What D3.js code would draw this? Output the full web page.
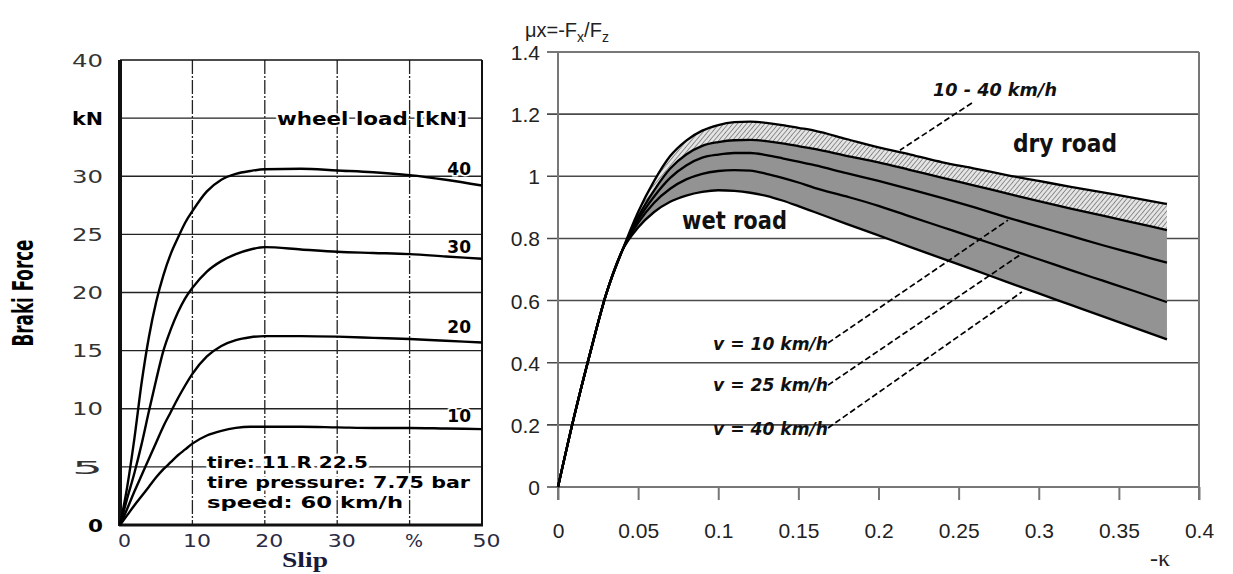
<!DOCTYPE html>
<html>
<head>
<meta charset="utf-8">
<script src="https://cdn.jsdelivr.net/npm/d3@7/dist/d3.min.js"></script>
<style>
  html, body { margin: 0; padding: 0; background: #fff; }
  svg { display: block; }
</style>
</head>
<body>
<svg id="chart" width="1233" height="574"></svg>
<script>
// ---- left chart: braking force vs slip, one curve per wheel load ----
const slip = [0, 1, 2, 3, 4, 5, 6, 7, 8, 9, 10, 12, 14, 16, 18, 20, 25, 30, 35, 40, 45, 50];
const load40 = [0, 3.3, 7.5, 12.3, 16.2, 19.2, 21.5, 23.3, 24.7, 26, 27, 28.7, 29.7, 30.2, 30.45, 30.6, 30.65, 30.5, 30.35, 30.1, 29.7, 29.2];
const load30 = [0, 2.3, 4.5, 7, 9.8, 12.5, 15, 16.8, 18.3, 19.5, 20.4, 21.8, 22.7, 23.3, 23.7, 23.9, 23.7, 23.5, 23.4, 23.3, 23.1, 22.9];
const load20 = [0, 1.4, 2.9, 4.3, 5.7, 7.1, 8.5, 9.7, 10.9, 12, 13, 14.5, 15.4, 15.9, 16.15, 16.25, 16.25, 16.2, 16.1, 16, 15.85, 15.7];
const load10 = [0, 0.85, 1.7, 2.5, 3.3, 4.1, 4.8, 5.4, 6, 6.5, 7, 7.7, 8.1, 8.35, 8.45, 8.45, 8.45, 8.4, 8.35, 8.35, 8.3, 8.25];
const loadNames = ["40", "30", "20", "10"];
const forceTicks = [0, 5, 10, 15, 20, 25, 30, 35, 40];
const slipTicks = [0, 10, 20, 30, 40, 50];
const tireInfo = ["tire: 11 R 22.5", "tire pressure: 7.75 bar", "speed: 60 km/h"];

// ---- right chart: friction coefficient vs slip (kappa) ----
const kappa = [0, 0.01, 0.02, 0.03, 0.04, 0.05, 0.06, 0.07, 0.08, 0.09, 0.10, 0.11, 0.12, 0.13, 0.14, 0.15, 0.16, 0.18, 0.20, 0.22, 0.24, 0.26, 0.28, 0.30, 0.32, 0.34, 0.36, 0.38];
const muDryMax = [0, 0.225, 0.43, 0.62, 0.76, 0.885, 0.985, 1.065, 1.115, 1.147, 1.165, 1.174, 1.176, 1.172, 1.165, 1.156, 1.147, 1.12, 1.093, 1.07, 1.045, 1.025, 1.004, 0.985, 0.966, 0.948, 0.93, 0.911];
const muDryMin = [0, 0.225, 0.43, 0.62, 0.76, 0.87, 0.955, 1.025, 1.07, 1.098, 1.11, 1.116, 1.117, 1.113, 1.106, 1.097, 1.088, 1.066, 1.045, 1.02, 0.995, 0.97, 0.945, 0.92, 0.896, 0.873, 0.85, 0.827];
const muWet10 = [0, 0.225, 0.43, 0.62, 0.76, 0.86, 0.935, 0.995, 1.035, 1.06, 1.07, 1.075, 1.075, 1.068, 1.058, 1.047, 1.036, 1.01, 0.985, 0.958, 0.93, 0.9, 0.868, 0.838, 0.808, 0.778, 0.75, 0.722];
const muWet25 = [0, 0.225, 0.43, 0.62, 0.76, 0.85, 0.915, 0.96, 0.99, 1.008, 1.017, 1.02, 1.018, 1.008, 0.995, 0.98, 0.963, 0.935, 0.905, 0.87, 0.836, 0.802, 0.767, 0.733, 0.698, 0.664, 0.63, 0.595];
const muWet40 = [0, 0.225, 0.43, 0.62, 0.76, 0.835, 0.885, 0.918, 0.938, 0.95, 0.955, 0.953, 0.947, 0.937, 0.922, 0.904, 0.885, 0.847, 0.81, 0.772, 0.735, 0.698, 0.66, 0.623, 0.586, 0.549, 0.512, 0.475];
const muTicks = [0, 0.2, 0.4, 0.6, 0.8, 1, 1.2, 1.4];
const kappaTicks = [0, 0.05, 0.1, 0.15, 0.2, 0.25, 0.3, 0.35, 0.4];
const speedNames = ["v = 10 km/h", "v = 25 km/h", "v = 40 km/h"];

const svg = d3.select("#chart");

// ================= left chart =================
const xL = d3.scaleLinear().domain([0, 50]).range([120, 482]);
const yL = d3.scaleLinear().domain([0, 40]).range([525, 60]);

// grid
svg.append("g")
  .selectAll("line")
  .data(forceTicks.slice(1, -1))
  .enter()
  .append("line")
  .attr("x1", xL(0))
  .attr("x2", xL(50))
  .attr("y1", (d) => yL(d))
  .attr("y2", (d) => yL(d))
  .attr("stroke", "#222")
  .attr("stroke-width", 1.4);

svg.append("g")
  .selectAll("line")
  .data(slipTicks.slice(1, -1))
  .enter()
  .append("line")
  .attr("x1", (d) => xL(d))
  .attr("x2", (d) => xL(d))
  .attr("y1", yL(40))
  .attr("y2", yL(0))
  .attr("stroke", "#222")
  .attr("stroke-width", 1.3)
  .attr("stroke-dasharray", "14,2,2,2");

// frame
svg.append("line").attr("x1", xL(0)).attr("x2", xL(50)).attr("y1", yL(40)).attr("y2", yL(40))
  .attr("stroke", "#111").attr("stroke-width", 1.6);
svg.append("line").attr("x1", xL(50)).attr("x2", xL(50)).attr("y1", yL(40)).attr("y2", yL(0))
  .attr("stroke", "#111").attr("stroke-width", 2);
svg.append("line").attr("x1", xL(0) - 1).attr("x2", xL(50) + 1).attr("y1", yL(0)).attr("y2", yL(0))
  .attr("stroke", "#111").attr("stroke-width", 3);
svg.append("line").attr("x1", xL(0)).attr("x2", xL(0)).attr("y1", yL(40)).attr("y2", yL(0) + 1)
  .attr("stroke", "#111").attr("stroke-width", 4);

// axes (labels only)
const yAxisL = svg.append("g")
  .attr("transform", `translate(${xL(0) - 17},0)`)
  .call(d3.axisLeft(yL).tickValues(forceTicks).tickSize(0)
    .tickFormat((d) => (d === 35 ? "kN" : String(d))));
yAxisL.select(".domain").remove();
yAxisL.selectAll("text")
  .attr("x", 0)
  .attr("dy", "0.36em")
  .style("font-family", "DejaVu Sans, sans-serif")
  .style("font-size", "17px")
  .style("font-weight", (d) => (d === 35 || d === 0 ? "bold" : "normal"))
  .attr("fill", (d) => (d === 35 || d === 0 ? "#000" : "#333"))
  .attr("textLength", (d) => (d === 0 ? 15 : 31))
  .attr("lengthAdjust", "spacingAndGlyphs");

const xAxisL = svg.append("g")
  .attr("transform", `translate(4,${yL(0)})`)
  .call(d3.axisBottom(xL).tickValues(slipTicks).tickSize(0)
    .tickFormat((d) => (d === 40 ? "%" : String(d))));
xAxisL.select(".domain").remove();
xAxisL.selectAll("text")
  .attr("y", 22)
  .attr("dy", 0)
  .style("font-family", "DejaVu Sans, sans-serif")
  .style("font-size", "18px")
  .attr("fill", "#2a2a44")
  .attr("textLength", (d) => (d === 0 ? 13 : d === 40 ? 18 : 28))
  .attr("lengthAdjust", "spacingAndGlyphs");

// curves
const lineL = d3.line()
  .x((d, i) => xL(slip[i]))
  .y((d) => yL(d))
  .curve(d3.curveMonotoneX);

svg.append("g")
  .selectAll("path")
  .data([load40, load30, load20, load10])
  .enter()
  .append("path")
  .attr("d", lineL)
  .attr("fill", "none")
  .attr("stroke", "#000")
  .attr("stroke-width", 2.4);

// curve labels
const loadLabelY = [175, 253, 333, 422];
svg.append("g")
  .selectAll("text")
  .data(loadNames)
  .enter()
  .append("text")
  .attr("x", 471)
  .attr("y", (d, i) => loadLabelY[i])
  .attr("text-anchor", "end")
  .style("font-family", "DejaVu Sans, sans-serif")
  .style("font-size", "17px")
  .style("font-weight", "bold")
  .attr("fill", "#000")
  .attr("stroke", "#fff")
  .attr("stroke-width", 3)
  .attr("paint-order", "stroke")
  .text((d) => d);

svg.append("text")
  .attr("x", 277)
  .attr("y", 125)
  .style("font-family", "DejaVu Sans, sans-serif")
  .style("font-size", "17px")
  .style("font-weight", "bold")
  .attr("fill", "#000")
  .attr("stroke", "#fff")
  .attr("stroke-width", 4)
  .attr("paint-order", "stroke")
  .attr("textLength", 190)
  .attr("lengthAdjust", "spacingAndGlyphs")
  .text("wheel load [kN]");

const infoLen = [161, 263, 196];
svg.append("g")
  .selectAll("text")
  .data(tireInfo)
  .enter()
  .append("text")
  .attr("x", 207)
  .attr("y", (d, i) => 468 + i * 20)
  .style("font-family", "DejaVu Sans, sans-serif")
  .style("font-size", "16px")
  .style("font-weight", "bold")
  .attr("fill", "#000")
  .attr("stroke", "#fff")
  .attr("stroke-width", 5)
  .attr("paint-order", "stroke")
  .attr("textLength", (d, i) => infoLen[i])
  .attr("lengthAdjust", "spacingAndGlyphs")
  .text((d) => d);

// axis titles
svg.append("text")
  .attr("transform", "translate(33,293) rotate(-90)")
  .attr("text-anchor", "middle")
  .style("font-family", "Liberation Sans Narrow, DejaVu Sans Condensed, sans-serif")
  .style("font-size", "28px")
  .style("font-weight", "bold")
  .attr("fill", "#000")
  .attr("textLength", 107)
  .attr("lengthAdjust", "spacingAndGlyphs")
  .text("Braki   Force");

svg.append("text")
  .attr("x", 305)
  .attr("y", 567)
  .attr("text-anchor", "middle")
  .style("font-family", "Liberation Serif, serif")
  .style("font-size", "21px")
  .style("font-weight", "bold")
  .attr("fill", "#1a1a3a")
  .attr("textLength", 46)
  .attr("lengthAdjust", "spacingAndGlyphs")
  .text("Slip");

// ================= right chart =================
const xR = d3.scaleLinear().domain([0, 0.4]).range([558, 1199]);
const yR = d3.scaleLinear().domain([0, 1.4]).range([487, 52]);

const defs = svg.append("defs");
const hatch = defs.append("pattern")
  .attr("id", "hatch")
  .attr("patternUnits", "userSpaceOnUse")
  .attr("width", 3.5)
  .attr("height", 3.5)
  .attr("patternTransform", "rotate(40)");
hatch.append("rect").attr("width", 3.5).attr("height", 3.5).attr("fill", "#e4e4e4");
hatch.append("line").attr("x1", 0).attr("y1", 0).attr("x2", 0).attr("y2", 3.5)
  .attr("stroke", "#6a6a6a").attr("stroke-width", 1.4);

// gridlines
svg.append("g")
  .selectAll("line")
  .data(muTicks)
  .enter()
  .append("line")
  .attr("x1", xR(0) - 11)
  .attr("x2", xR(0.4))
  .attr("y1", (d) => yR(d))
  .attr("y2", (d) => yR(d))
  .attr("stroke", "#4a4a4a")
  .attr("stroke-width", 1.6);

svg.append("line").attr("x1", xR(0)).attr("x2", xR(0)).attr("y1", yR(1.4)).attr("y2", yR(0) + 13)
  .attr("stroke", "#777").attr("stroke-width", 2);
svg.append("line").attr("x1", xR(0.4)).attr("x2", xR(0.4)).attr("y1", yR(1.4)).attr("y2", yR(0) + 13)
  .attr("stroke", "#777").attr("stroke-width", 2);

const xAxisR = svg.append("g")
  .attr("transform", `translate(0,${yR(0)})`)
  .call(d3.axisBottom(xR).tickValues(kappaTicks).tickSize(13)
    .tickFormat((d) => String(+d.toFixed(2))));
xAxisR.select(".domain").remove();
xAxisR.selectAll("line").attr("stroke", "#777").attr("stroke-width", 2);
xAxisR.selectAll("text")
  .attr("y", 51)
  .attr("dy", 0)
  .style("font-family", "Liberation Sans Narrow, Liberation Sans, sans-serif")
  .style("font-size", "21px")
  .attr("fill", "#222");

const yAxisR = svg.append("g")
  .attr("transform", `translate(${xR(0) - 18},0)`)
  .call(d3.axisLeft(yR).tickValues(muTicks).tickSize(0)
    .tickFormat((d) => String(+d.toFixed(1))));
yAxisR.select(".domain").remove();
yAxisR.selectAll("text")
  .attr("x", 0)
  .attr("dy", "0.36em")
  .style("font-family", "Liberation Sans Narrow, Liberation Sans, sans-serif")
  .style("font-size", "21px")
  .attr("fill", "#222");

// bands
const idx = d3.range(kappa.length);
const bandArea = (lo, hi) => d3.area()
  .x((i) => xR(kappa[i]))
  .y0((i) => yR(lo[i]))
  .y1((i) => yR(hi[i]))
  .curve(d3.curveMonotoneX);

svg.append("path")
  .attr("d", bandArea(muWet40, muDryMin)(idx))
  .attr("fill", "#939393");
svg.append("path")
  .attr("d", bandArea(muDryMin, muDryMax)(idx))
  .attr("fill", "url(#hatch)");

const lineR = d3.line()
  .x((d, i) => xR(kappa[i]))
  .y((d) => yR(d))
  .curve(d3.curveMonotoneX);

svg.append("g")
  .selectAll("path")
  .data([muDryMax, muDryMin, muWet10, muWet25, muWet40])
  .enter()
  .append("path")
  .attr("d", lineR)
  .attr("fill", "none")
  .attr("stroke", "#000")
  .attr("stroke-width", 2.3);

// leader lines (data coordinates)
const leaders = [
  [[0.2583, 1.236], [0.2134, 1.084]],
  [[0.1685, 0.4635], [0.2808, 0.859]],
  [[0.1685, 0.328], [0.2883, 0.747]],
  [[0.1685, 0.19], [0.2895, 0.628]],
];
svg.append("g")
  .selectAll("line")
  .data(leaders)
  .enter()
  .append("line")
  .attr("x1", (d) => xR(d[0][0]))
  .attr("y1", (d) => yR(d[0][1]))
  .attr("x2", (d) => xR(d[1][0]))
  .attr("y2", (d) => yR(d[1][1]))
  .attr("stroke", "#000")
  .attr("stroke-width", 1.7)
  .attr("stroke-dasharray", "6,3");

// labels
const speedY = [350, 391, 435];
svg.append("g")
  .selectAll("text")
  .data(speedNames)
  .enter()
  .append("text")
  .attr("x", 713)
  .attr("y", (d, i) => speedY[i])
  .style("font-family", "DejaVu Sans, sans-serif")
  .style("font-size", "17px")
  .style("font-style", "italic")
  .style("font-weight", "bold")
  .attr("fill", "#111")
  .attr("textLength", 115)
  .attr("lengthAdjust", "spacingAndGlyphs")
  .text((d) => d);

svg.append("text")
  .attr("x", 933)
  .attr("y", 96)
  .style("font-family", "DejaVu Sans, sans-serif")
  .style("font-size", "17px")
  .style("font-style", "italic")
  .style("font-weight", "bold")
  .attr("fill", "#111")
  .attr("textLength", 124)
  .attr("lengthAdjust", "spacingAndGlyphs")
  .text("10 - 40 km/h");

svg.append("text")
  .attr("x", 1013)
  .attr("y", 152)
  .style("font-family", "DejaVu Sans, sans-serif")
  .style("font-size", "25px")
  .style("font-weight", "bold")
  .attr("fill", "#111")
  .attr("textLength", 104)
  .attr("lengthAdjust", "spacingAndGlyphs")
  .text("dry road");

svg.append("text")
  .attr("x", 682)
  .attr("y", 229)
  .style("font-family", "DejaVu Sans, sans-serif")
  .style("font-size", "25px")
  .style("font-weight", "bold")
  .attr("fill", "#111")
  .attr("textLength", 105)
  .attr("lengthAdjust", "spacingAndGlyphs")
  .text("wet road");

// axis titles
const muTitle = svg.append("text")
  .attr("x", 525)
  .attr("y", 37)
  .style("font-family", "Liberation Sans Narrow, Liberation Sans, sans-serif")
  .style("font-size", "20px")
  .attr("fill", "#222");
muTitle.append("tspan").text("\u03bcx=-F");
muTitle.append("tspan").attr("dy", 5).style("font-size", "14px").text("x");
muTitle.append("tspan").attr("dy", -5).text("/F");
muTitle.append("tspan").attr("dy", 5).style("font-size", "14px").text("z");

svg.append("text")
  .attr("x", 1160)
  .attr("y", 566)
  .attr("text-anchor", "middle")
  .style("font-family", "Liberation Serif, serif")
  .style("font-size", "24px")
  .attr("fill", "#222")
  .text("-\u03ba");
</script>
</body>
</html>
